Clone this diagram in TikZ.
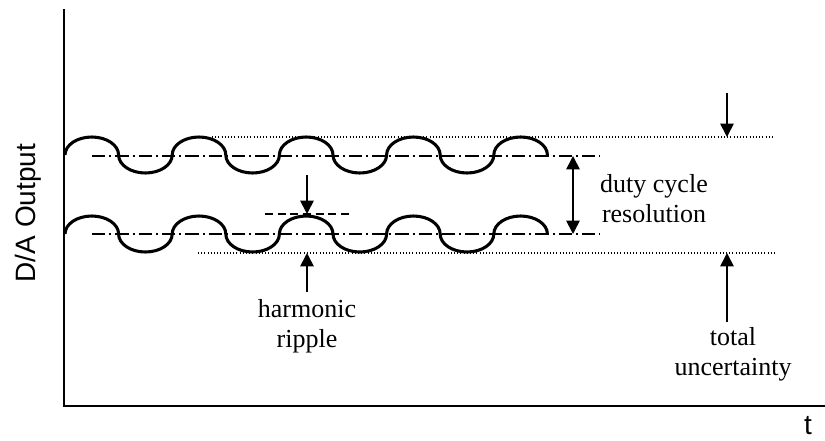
\documentclass[tikz,border=0pt]{standalone}
\usepackage{fontspec}
\setmainfont{Liberation Serif}
\newfontfamily\axisfont{Liberation Sans}
\usetikzlibrary{arrows.meta}

\tikzset{
  wave/.style={line width=2.3pt},
  axisline/.style={line width=1.5pt},
  midline/.style={line width=1.1pt,dash pattern=on 10pt off 3pt on 1.5pt off 3pt},
  limitline/.style={line width=0.8pt,dash pattern=on 0.8pt off 1.6pt},
  peakline/.style={line width=1.1pt,dash pattern=on 6pt off 3.5pt},
  pointer/.style={line width=1.3pt,-{Triangle[length=10pt,width=10pt]}},
  label/.style={inner sep=0pt,align=center,font=\fontsize{19.5pt}{22.5pt}\selectfont},
}

\begin{document}
\begin{tikzpicture}[x=0.75pt,y=0.75pt,yscale=-1,xscale=1]
        \useasboundingbox (0,0) rectangle (825,440);

        %Axes
        \coordinate (ytop) at (64,9);
        \coordinate (origin) at (64,406);
        \coordinate (xend) at (825,406);
        \draw [axisline] (ytop) -- (origin) -- (xend) ;

        %Waves [humps of half width 26.8, height 18]
        \coordinate (waveA) at (65,155);
        \coordinate (waveB) at (65,234);
        \foreach \w in {waveA,waveB}{
          \draw [wave] (\w) \foreach \k in {1,...,4}{ arc[start angle=180,end angle=360,x radius=26.8,y radius=18] arc[start angle=180,end angle=0,x radius=26.8,y radius=18] } arc[start angle=180,end angle=360,x radius=26.8,y radius=18] ;
        }

        %Mean levels
        \coordinate (meanAl) at (92,156);
        \coordinate (meanAr) at (600,156);
        \coordinate (meanBl) at (92,234);
        \coordinate (meanBr) at (600,234);
        \draw [midline] (meanAl) -- (meanAr) ;
        \draw [midline] (meanBl) -- (meanBr) ;

        %Uncertainty limits
        \coordinate (limitAl) at (212,137);
        \coordinate (limitAr) at (775,137);
        \coordinate (limitBl) at (198,253);
        \coordinate (limitBr) at (775,253);
        \draw [limitline] (limitAl) -- (limitAr) ;
        \draw [limitline] (limitBl) -- (limitBr) ;

        %Peak of ripple
        \coordinate (peakl) at (265,214);
        \coordinate (peakr) at (353,214);
        \draw [peakline] (peakl) -- (peakr) ;

        % Text Node
        \node [label] (duty) at (654,199) {duty cycle\\resolution};
        % Text Node
        \node [label] (ripple) at (307,326) {harmonic\\ripple};
        % Text Node
        \node [label] (total) at (733,354) {total\\uncertainty};
        % Text Node
        \node [inner sep=0pt,rotate=90,font=\axisfont\fontsize{21pt}{25pt}\selectfont] (ylabel) at (28,213) {D/A Output};
        % Text Node
        \node [inner sep=0pt,font=\axisfont\fontsize{21pt}{25pt}\selectfont] (xlabel) at (808,426) {t};

        %Arrows
        \coordinate (dutytop) at (573,156);
        \coordinate (dutybot) at (573,234);
        \draw [pointer,{Triangle[length=10pt,width=10pt]}-{Triangle[length=10pt,width=10pt]}] (dutytop) -- (dutybot) ;
        \coordinate (ripplestart) at (307,175);
        \coordinate (ripplepeak) at (307,214);
        \draw [pointer] (ripplestart) -- (ripplepeak) ;
        \coordinate (ripplefoot) at (307,292);
        \coordinate (ripplelow) at (307,253);
        \draw [pointer] (ripplefoot) -- (ripplelow) ;
        \coordinate (totalstart) at (727,93);
        \coordinate (totaltop) at (727,137);
        \draw [pointer] (totalstart) -- (totaltop) ;
        \coordinate (totalfoot) at (727,322);
        \coordinate (totallow) at (727,253);
        \draw [pointer] (totalfoot) -- (totallow) ;

\end{tikzpicture}
\end{document}
